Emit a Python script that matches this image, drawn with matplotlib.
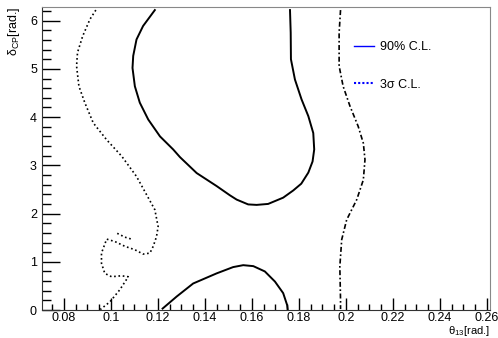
import matplotlib
matplotlib.use('Agg')
import matplotlib.pyplot as plt
from matplotlib.lines import Line2D

plt.rcParams['font.family'] = ['Liberation Sans', 'DejaVu Sans']
plt.rcParams['mathtext.fontset'] = 'custom'
plt.rcParams['mathtext.rm'] = 'Liberation Sans'

# 90% C.L. contour, upper island (theta13, deltaCP)
cl90_up_theta = [0.1187, 0.1137, 0.1109, 0.1095, 0.1092, 0.1102, 0.1123, 0.1159, 0.1209,
                 0.1265, 0.1294, 0.1365, 0.1450, 0.1506, 0.1535, 0.1584, 0.1620, 0.1669,
                 0.1733, 0.1776, 0.1810, 0.1840, 0.1858, 0.1865, 0.1861, 0.1840, 0.1811,
                 0.1783, 0.1766, 0.1765, 0.1762]
cl90_up_delta = [6.22, 5.89, 5.61, 5.27, 5.02, 4.64, 4.30, 3.95, 3.60,
                 3.33, 3.17, 2.84, 2.57, 2.38, 2.29, 2.19, 2.18, 2.20,
                 2.33, 2.48, 2.62, 2.85, 3.08, 3.33, 3.67, 4.02, 4.37,
                 4.78, 5.20, 5.75, 6.22]

# 90% C.L. contour, lower island
cl90_lo_theta = [0.1220, 0.1280, 0.1350, 0.1450, 0.1520, 0.1563, 0.1606, 0.1655, 0.1698,
                 0.1733, 0.1750, 0.1752]
cl90_lo_delta = [0.03, 0.28, 0.55, 0.76, 0.89, 0.93, 0.91, 0.80, 0.59,
                 0.35, 0.10, 0.02]

# 3 sigma contour, left branch
s3_left_theta = [0.0936, 0.0911, 0.0880, 0.0858, 0.0854, 0.0864, 0.0889, 0.0925, 0.0982,
                 0.1046, 0.1109, 0.1152, 0.1187, 0.1201, 0.1194, 0.1180, 0.1166, 0.1137,
                 0.1102, 0.1060, 0.1017, 0.0982, 0.0960, 0.0960, 0.0974, 0.1003, 0.1045,
                 0.1074, 0.1038, 0.0996, 0.0960, 0.0955]
s3_left_delta = [6.22, 6.03, 5.68, 5.34, 5.06, 4.64, 4.30, 3.88, 3.53,
                 3.19, 2.77, 2.39, 2.08, 1.73, 1.52, 1.32, 1.18, 1.16,
                 1.25, 1.32, 1.42, 1.47, 1.18, 0.97, 0.76, 0.69, 0.71,
                 0.69, 0.42, 0.17, 0.03, 0.01]

# 3 sigma contour, small fragment
s3_frag_theta = [0.1027, 0.1060, 0.1095]
s3_frag_delta = [1.59, 1.51, 1.46]

# 3 sigma contour, right branch
s3_right_theta = [0.1977, 0.1971, 0.1971, 0.1988, 0.2017, 0.2052, 0.2074, 0.2081, 0.2074,
                  0.2046, 0.2003, 0.1982, 0.1974, 0.1977, 0.1977]
s3_right_delta = [6.22, 5.75, 5.06, 4.64, 4.23, 3.81, 3.46, 3.12, 2.70,
                  2.29, 1.87, 1.46, 0.90, 0.21, 0.02]

fig = plt.figure(figsize=(4.98, 3.38), dpi=100)
ax = fig.add_axes([0.0853, 0.0828, 0.8987, 0.8964])

ax.plot(cl90_up_theta, cl90_up_delta, color='black', lw=1.4)
ax.plot(cl90_lo_theta, cl90_lo_delta, color='black', lw=1.4)
ax.plot(s3_left_theta, s3_left_delta, color='black', lw=1.2, linestyle=(0, (1, 1.6)))
ax.plot(s3_frag_theta, s3_frag_delta, color='black', lw=1.2, linestyle=(0, (1, 1.6)))
ax.plot(s3_right_theta, s3_right_delta, color='black', lw=1.2, linestyle=(0, (3, 1.5, 1, 1.5)))

ax.set_xlim(0.0709, 0.2613)
ax.set_ylim(0, 6.2832)
ax.set_xticks([0.08, 0.10, 0.12, 0.14, 0.16, 0.18, 0.20, 0.22, 0.24, 0.26])
ax.set_xticklabels(['0.08', '0.1', '0.12', '0.14', '0.16', '0.18', '0.2', '0.22', '0.24', '0.26'])
ax.set_xticks([0.075 + 0.005 * i for i in range(38)], minor=True)
ax.set_yticks([0, 1, 2, 3, 4, 5, 6])
ax.set_yticks([0.2 * i for i in range(32)], minor=True)

ax.tick_params(axis='x', which='major', direction='in', length=9, width=1, labelsize=9, pad=1.5,
               top=False)
ax.tick_params(axis='x', which='minor', direction='in', length=4.5, width=1, top=False)
ax.tick_params(axis='y', which='major', direction='in', length=13, width=1, labelsize=9, pad=4,
               right=False)
ax.tick_params(axis='y', which='minor', direction='in', length=6.5, width=1, right=False)

for side in ['top', 'right']:
    ax.spines[side].set_color('#888888')
for side in ['left', 'bottom']:
    ax.spines[side].set_color('#333333')

ax.set_xlabel(r'θ$_{\mathregular{13}}$[rad.]', fontsize=8, ha='right', va='bottom')
ax.xaxis.set_label_coords(1.0, -0.0915)
ax.set_ylabel(r'δ$_{\mathregular{CP}}$[rad.]', loc='top', fontsize=9, labelpad=6)

handles = [Line2D([], [], color='blue', lw=1.0),
           Line2D([], [], color='blue', lw=1.5, linestyle=(0, (1, 1)))]
ax.legend(handles, ['90% C.L.', '3σ C.L.'], loc='upper left', bbox_to_anchor=(0.695, 0.888),
          frameon=False, fontsize=9, handlelength=1.6, handletextpad=0.5,
          labelspacing=2.05, borderpad=0, borderaxespad=0)

fig.savefig('out.png', dpi=100)
